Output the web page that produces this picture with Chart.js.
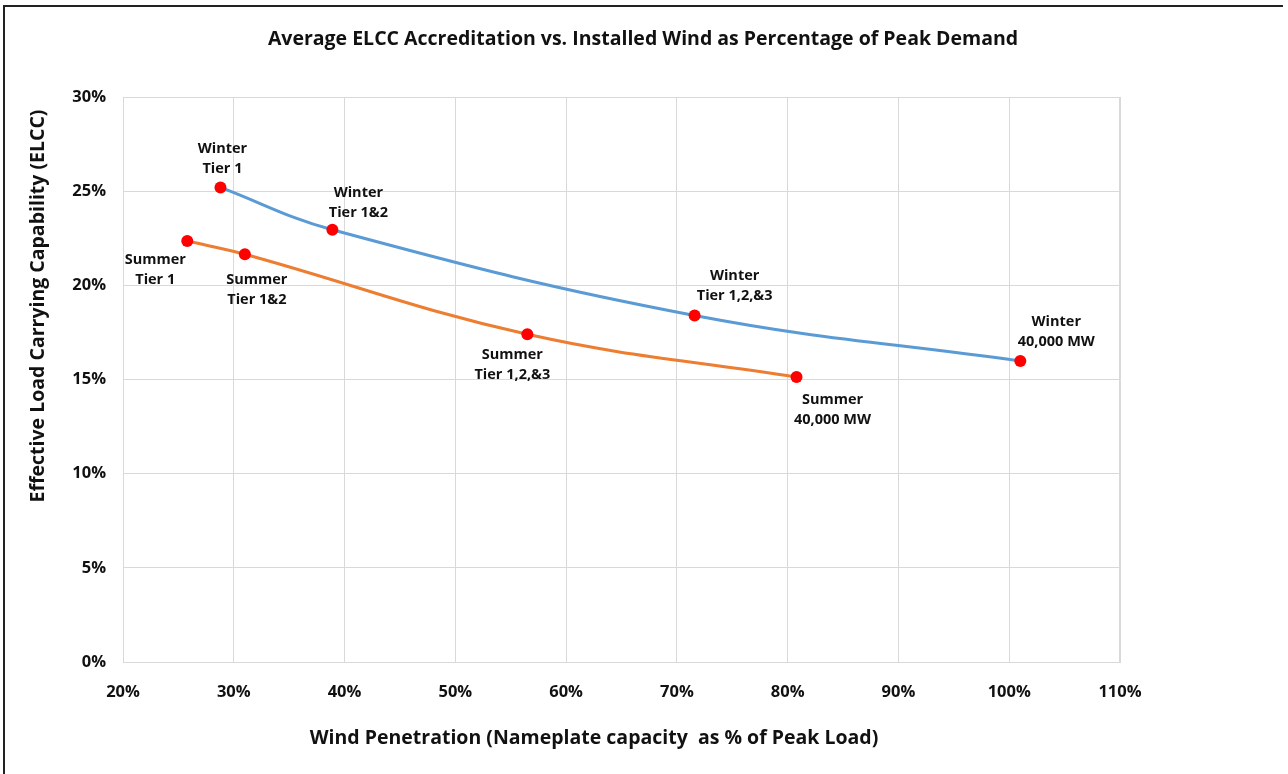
<!DOCTYPE html>
<html>
<head>
<meta charset="utf-8">
<script src="https://cdn.jsdelivr.net/npm/chart.js@4.4.1/dist/chart.umd.min.js"></script>
<style>
  html, body { margin: 0; padding: 0; background: #fff; }
  #wrap { position: relative; width: 1288px; height: 774px; }
  #frame { position: absolute; left: 3px; top: 5px; width: 1280px; height: 769px; border-left: 2px solid #222; border-top: 2px solid #222; box-sizing: border-box; pointer-events: none; }
  canvas { display: block; }
</style>
</head>
<body>
<div id="wrap">
  <canvas id="c" width="1288" height="774"></canvas>
  <div id="frame"></div>
</div>
<script>
// ---- data ----
const chartTitle = "Average ELCC Accreditation vs. Installed Wind as Percentage of Peak Demand";
const xAxisTitle = "Wind Penetration (Nameplate capacity  as % of Peak Load)";
const yAxisTitle = "Effective Load Carrying Capability (ELCC)";

const winterLabels = ["Winter\nTier 1", "Winter\nTier 1&2", "Winter\nTier 1,2,&3", "Winter\n40,000 MW"];
const winterX = [28.8, 38.9, 71.6, 101.0];
const winterY = [25.2, 22.95, 18.4, 15.98];

const summerLabels = ["Summer\nTier 1", "Summer\nTier 1&2", "Summer\nTier 1,2,&3", "Summer\n40,000 MW"];
const summerX = [25.8, 31.0, 56.5, 80.8];
const summerY = [22.35, 21.65, 17.4, 15.13];

const xTickMin = 20, xTickMax = 110, xTickStep = 10;
const yTickMin = 0, yTickMax = 30, yTickStep = 5;

// label offsets (pixels, center of the two-line block relative to the point)
const winterLabelOffsets = [[2, -29], [26, -27], [40, -30], [36, -29]];
const summerLabelOffsets = [[-32, 29], [12, 36], [-15, 31], [36, 33]];

const toPoints = (xs, ys) => xs.map((x, i) => ({ x: x, y: ys[i] }));

const FONT = "'Open Sans', 'DejaVu Sans', sans-serif";

const labelPlugin = {
  id: 'pointLabels',
  afterDatasetsDraw(chart) {
    const ctx = chart.ctx;
    const sets = [[0, winterLabels, winterLabelOffsets], [1, summerLabels, summerLabelOffsets]];
    ctx.save();
    ctx.font = "bold 14.5px " + FONT;
    ctx.fillStyle = "#111";
    ctx.textAlign = "center";
    ctx.textBaseline = "middle";
    sets.forEach(([di, labels, offs]) => {
      const meta = chart.getDatasetMeta(di);
      meta.data.forEach((pt, i) => {
        const lines = labels[i].split("\n");
        const cx = pt.x + offs[i][0];
        const cy = pt.y + offs[i][1];
        const lh = 20;
        lines.forEach((ln, k) => {
          ctx.fillText(ln, cx, cy + (k - (lines.length - 1) / 2) * lh);
        });
      });
    });
    ctx.restore();
  }
};

const titlesPlugin = {
  id: 'titles',
  afterDraw(chart) {
    const ctx = chart.ctx;
    ctx.save();
    ctx.fillStyle = "#111";
    ctx.textAlign = "center";
    ctx.textBaseline = "middle";
    ctx.font = "bold 19.5px " + FONT;
    ctx.fillText(chartTitle, 643, 39);
    ctx.font = "bold 19.5px " + FONT;
    ctx.fillText(xAxisTitle, 594, 738);
    ctx.translate(38, 306);
    ctx.rotate(-Math.PI / 2);
    ctx.font = "bold 19.5px " + FONT;
    ctx.fillText(yAxisTitle, 0, 0);
    ctx.restore();
  }
};

const gridColor = "#d9d9d9";

new Chart(document.getElementById('c'), {
  type: 'scatter',
  data: {
    datasets: [
      {
        label: 'Winter',
        data: toPoints(winterX, winterY),
        showLine: true,
        borderColor: '#5b9bd5',
        borderWidth: 3,
        tension: 0.4,
        pointRadius: 6,
        pointBackgroundColor: '#ff0000',
        pointBorderColor: '#ff0000',
        pointBorderWidth: 0
      },
      {
        label: 'Summer',
        data: toPoints(summerX, summerY),
        showLine: true,
        borderColor: '#ed7d31',
        borderWidth: 3,
        tension: 0.4,
        pointRadius: 6,
        pointBackgroundColor: '#ff0000',
        pointBorderColor: '#ff0000',
        pointBorderWidth: 0
      }
    ]
  },
  options: {
    responsive: false,
    animation: false,
    layout: { padding: { left: 0, right: 168, top: 97, bottom: 0 } },
    plugins: {
      legend: { display: false },
      tooltip: { enabled: false },
      title: { display: false }
    },
    scales: {
      x: {
        type: 'linear',
        min: xTickMin, max: xTickMax,
        ticks: {
          stepSize: xTickStep,
          color: '#111',
          font: { family: FONT, size: 16.5, weight: 'bold' },
          padding: 20,
          callback: v => v + '%'
        },
        grid: { color: gridColor, drawTicks: false },
        border: { color: gridColor },
        afterFit: s => { s.height = 774 - 662; }
      },
      y: {
        type: 'linear',
        min: yTickMin, max: yTickMax,
        ticks: {
          stepSize: yTickStep,
          color: '#111',
          font: { family: FONT, size: 16.5, weight: 'bold' },
          padding: 17,
          callback: v => v + '%'
        },
        grid: { color: gridColor, drawTicks: false },
        border: { color: gridColor },
        afterFit: s => { s.width = 123; }
      }
    }
  },
  plugins: [labelPlugin, titlesPlugin, {
    id: 'topRightGrid',
    afterDraw(chart) {
      const a = chart.chartArea, ctx = chart.ctx;
      ctx.save();
      ctx.strokeStyle = gridColor; ctx.lineWidth = 1;
      ctx.beginPath();
      ctx.moveTo(a.left, a.top + 0.5); ctx.lineTo(a.right, a.top + 0.5);
      ctx.moveTo(a.right - 0.5, a.top); ctx.lineTo(a.right - 0.5, a.bottom);
      ctx.stroke();
      ctx.restore();
    }
  }]
});
</script>
</body>
</html>
